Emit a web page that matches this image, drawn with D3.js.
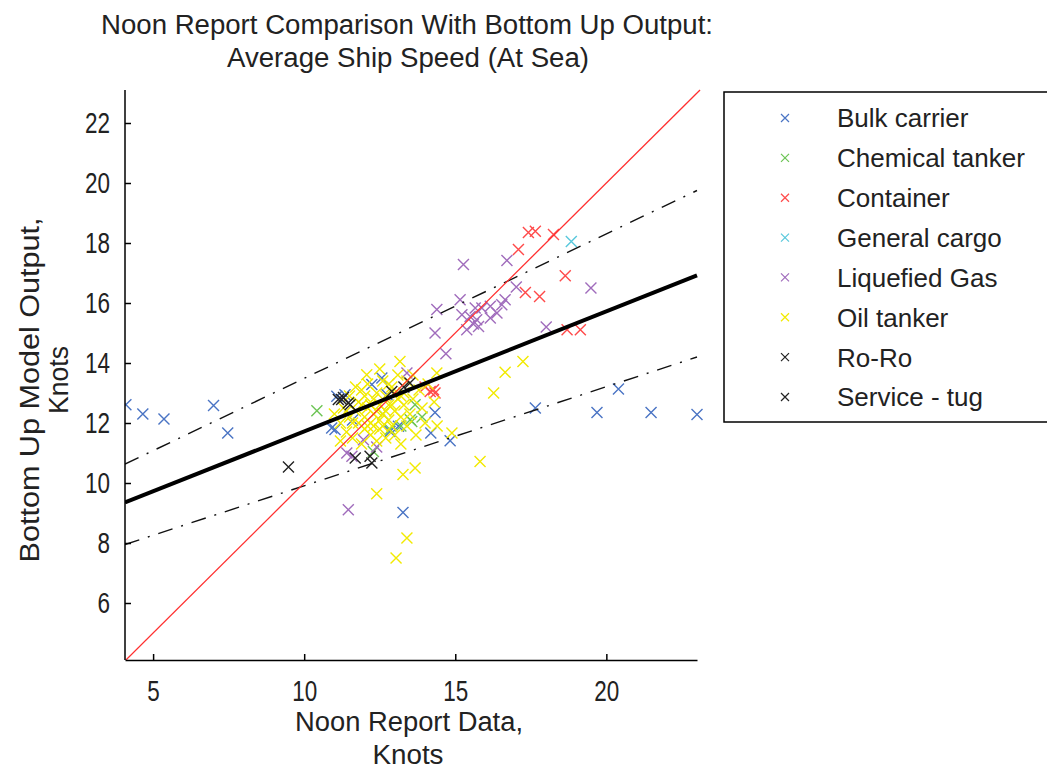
<!DOCTYPE html>
<html>
<head>
<meta charset="utf-8">
<script src="https://cdn.jsdelivr.net/npm/d3@7"></script>
<style>
  body { margin: 0; background: #fff; }
  svg { display: block; font-family: Arial, "Liberation Sans", sans-serif; }
</style>
</head>
<body>
<svg id="chart"></svg>
<script>
// Series values: [noon report knots, bottom-up knots]
const bulkCarrier = [
  [4.1, 12.61], [4.66, 12.3], [5.36, 12.13], [7.0, 12.58], [7.47, 11.67],
  [17.65, 12.5], [19.69, 12.35], [21.48, 12.35], [23.0, 12.28], [20.4, 13.13],
  [14.33, 12.35], [14.19, 11.67], [14.83, 11.41], [13.27, 9.02],
  [12.24, 13.28], [12.74, 12.94], [11.35, 12.94], [11.02, 11.78], [13.12, 11.89],
  [12.57, 13.5], [11.08, 12.89], [10.91, 11.83], [12.84, 11.72], [11.6, 12.1]
];
const chemicalTanker = [
  [10.42, 12.41], [13.56, 12.05], [12.84, 11.78], [13.67, 12.61], [13.51, 12.11],
  [12.29, 11.05], [12.6, 12.3], [13.2, 11.9], [13.9, 12.2]
];
const container = [
  [17.42, 18.35], [17.65, 18.39], [18.25, 18.28], [17.09, 17.78], [18.64, 16.91],
  [17.32, 16.35], [17.79, 16.22], [18.7, 15.11], [19.14, 15.11],
  [14.17, 13.05], [14.33, 13.0], [14.28, 13.11], [14.0, 13.2]
];
const generalCargo = [
  [18.84, 18.05]
];
const liquefiedGas = [
  [15.27, 17.28], [16.71, 17.42], [17.02, 16.53], [19.49, 16.5], [15.16, 16.11],
  [14.39, 15.78], [14.33, 15.0], [14.69, 14.31], [18.01, 15.2], [15.49, 15.55],
  [15.71, 15.44], [15.88, 15.83], [16.16, 15.89], [16.65, 16.11], [16.54, 15.94],
  [16.38, 15.67], [15.38, 15.11], [15.77, 15.22], [15.22, 15.61], [16.16, 15.5],
  [15.66, 15.83], [15.6, 15.3], [13.4, 13.67], [11.58, 10.89], [11.96, 11.44],
  [11.46, 9.11], [11.41, 11.0], [12.4, 11.2]
];
const oilTanker = [
  [13.17, 14.05], [17.24, 14.05], [16.65, 13.69], [16.27, 13.0], [14.89, 11.67],
  [15.82, 10.72], [13.67, 10.5], [13.27, 10.28], [12.4, 9.64], [13.4, 8.17],
  [13.04, 7.5], [12.07, 13.61], [14.39, 13.67],
  [11.0, 12.3], [11.2, 12.0], [11.3, 12.5], [11.4, 11.7], [11.5, 12.2], [11.5, 12.9],
  [11.6, 11.5], [11.7, 12.4], [11.8, 12.0], [11.8, 12.7], [11.9, 11.3], [11.9, 13.1],
  [12.0, 12.2], [12.0, 11.8], [12.1, 12.5], [12.1, 13.3], [12.2, 11.6], [12.2, 12.0],
  [12.3, 12.8], [12.3, 12.3], [12.4, 11.4], [12.4, 13.0], [12.5, 12.1], [12.5, 12.6],
  [12.5, 11.8], [12.6, 13.4], [12.6, 12.3], [12.7, 11.5], [12.7, 12.9], [12.8, 12.1],
  [12.8, 12.6], [12.9, 11.9], [12.9, 13.2], [13.0, 12.4], [13.0, 11.6], [13.1, 12.8],
  [13.1, 13.6], [13.2, 12.2], [13.2, 11.3], [13.3, 12.6], [13.3, 13.0], [13.4, 11.9],
  [13.4, 13.4], [13.5, 12.3], [13.6, 12.8], [13.7, 11.6], [13.8, 13.1], [13.9, 12.5],
  [14.0, 12.0], [14.1, 13.3], [14.3, 12.7], [14.4, 11.9], [12.0, 12.9], [11.6, 12.0],
  [12.3, 11.9], [12.6, 11.9], [12.2, 12.6], [12.9, 12.6], [12.4, 12.4], [12.7, 12.4],
  [13.0, 13.0], [12.1, 11.9], [11.9, 12.6], [13.2, 12.9], [12.8, 13.3], [11.4, 12.4],
  [11.7, 13.2], [12.5, 13.8], [13.6, 13.6], [11.2, 11.4]
];
const roRo = [
  [11.13, 12.78], [11.24, 12.78], [11.46, 12.67], [11.52, 12.61], [11.3, 12.85],
  [13.5, 13.33], [13.3, 13.2], [12.9, 13.05], [12.18, 10.89]
];
const serviceTug = [
  [9.48, 10.53], [11.69, 10.83], [12.24, 10.67]
];

const categories = ['Bulk carrier', 'Chemical tanker', 'Container', 'General cargo',
  'Liquefied Gas', 'Oil tanker', 'Ro-Ro', 'Service - tug'];
const categoryColors = ['#4a74c4', '#6cc454', '#ff4a4a', '#58c8dc',
  '#a06cbc', '#f2ea00', '#222222', '#222222'];
const seriesValues = [bulkCarrier, chemicalTanker, container, generalCargo,
  liquefiedGas, oilTanker, roRo, serviceTug];

// reference lines (end points)
const parityLine = [[4.07, 4.07], [23.1, 23.1]];
const fitLine = [[4.07, 9.35], [23.0, 16.92]];
const upperBand = [[4.07, 10.63], [23.0, 19.75]];
const lowerBand = [[4.07, 7.95], [23.0, 14.2]];

const xTicks = [5, 10, 15, 20];
const yTicks = [6, 8, 10, 12, 14, 16, 18, 20, 22];

const titleLines = ['Noon Report Comparison With Bottom Up Output:', 'Average Ship Speed (At Sea)'];
const xLabelLines = ['Noon Report Data,', 'Knots'];
const yLabelLines = ['Bottom Up Model Output,', 'Knots'];

/* layout */
const W = 1047, H = 771;
const plot = { x1: 125, x2: 697, y1: 90, y2: 660 };

const svg = d3.select('#chart').attr('width', W).attr('height', H);

const x = d3.scaleLinear().domain([4.07, 23.0]).range([plot.x1, plot.x2]);
const y = d3.scaleLinear().domain([4.1, 23.1]).range([plot.y2, plot.y1]);

svg.append('defs').append('clipPath').attr('id', 'plotclip')
  .append('rect')
  .attr('x', plot.x1).attr('y', plot.y1 - 2)
  .attr('width', plot.x2 - plot.x1 + 6).attr('height', plot.y2 - plot.y1 + 2);

// x-shaped marker
const cross = (s) => `M${-s},${-s}L${s},${s}M${-s},${s}L${s},${-s}`;

const pts = svg.append('g').attr('clip-path', 'url(#plotclip)');
seriesValues.forEach((vals, i) => {
  pts.append('g')
    .selectAll('path')
    .data(vals)
    .join('path')
    .attr('d', cross(5.5))
    .attr('transform', d => `translate(${x(d[0])},${y(d[1])})`)
    .attr('fill', 'none')
    .attr('stroke', categoryColors[i])
    .attr('stroke-width', 1.4);
});

const lineFn = d3.line().x(d => x(d[0])).y(d => y(d[1]));
const lines = svg.append('g').attr('clip-path', 'url(#plotclip)').attr('fill', 'none');

lines.append('path').attr('d', lineFn(upperBand))
  .attr('stroke', '#111').attr('stroke-width', 1.4).attr('stroke-dasharray', '15,9,2,9');
lines.append('path').attr('d', lineFn(lowerBand))
  .attr('stroke', '#111').attr('stroke-width', 1.4).attr('stroke-dasharray', '15,9,2,9');
lines.append('path').attr('d', lineFn(parityLine))
  .attr('stroke', '#ff3030').attr('stroke-width', 1.3);
lines.append('path').attr('d', lineFn(fitLine))
  .attr('stroke', '#000').attr('stroke-width', 4);

/* axes: inward ticks, left and bottom only */
const tickFont = (sel) => sel.selectAll('text')
  .attr('font-size', 29)
  .attr('fill', '#222')
  .attr('textLength', d => String(d).length * 12.5)
  .attr('lengthAdjust', 'spacingAndGlyphs');

const gx = svg.append('g')
  .attr('transform', `translate(0,${plot.y2})`)
  .call(d3.axisBottom(x).tickValues(xTicks).tickSizeInner(-6).tickSizeOuter(0).tickPadding(20));
gx.call(tickFont);

const gy = svg.append('g')
  .attr('transform', `translate(${plot.x1},0)`)
  .call(d3.axisLeft(y).tickValues(yTicks).tickSizeInner(-6).tickSizeOuter(0).tickPadding(15));
gy.call(tickFont);

[gx, gy].forEach(g => {
  g.select('.domain').attr('stroke', '#000').attr('stroke-width', 1.5);
  g.selectAll('.tick line').attr('stroke', '#000').attr('stroke-width', 1.5);
});
gy.select('.domain').attr('d', `M0,${plot.y1}V${plot.y2}`);

/* titles */
const title = svg.append('g').attr('font-size', 27).attr('fill', '#222').attr('text-anchor', 'middle');
title.append('text').attr('x', 407).attr('y', 34).text(titleLines[0])
  .attr('textLength', 612).attr('lengthAdjust', 'spacingAndGlyphs');
title.append('text').attr('x', 408).attr('y', 67).text(titleLines[1])
  .attr('textLength', 362).attr('lengthAdjust', 'spacingAndGlyphs');

const xl = svg.append('g').attr('font-size', 27).attr('fill', '#222').attr('text-anchor', 'middle');
xl.append('text').attr('x', 409).attr('y', 731).text(xLabelLines[0])
  .attr('textLength', 228).attr('lengthAdjust', 'spacingAndGlyphs');
xl.append('text').attr('x', 408).attr('y', 764).text(xLabelLines[1])
  .attr('textLength', 71).attr('lengthAdjust', 'spacingAndGlyphs');

const yl = svg.append('g').attr('font-size', 27).attr('fill', '#222').attr('text-anchor', 'middle')
  .attr('transform', 'translate(0,390) rotate(-90)');
yl.append('text').attr('x', 0).attr('y', 39).text(yLabelLines[0])
  .attr('textLength', 345).attr('lengthAdjust', 'spacingAndGlyphs');
yl.append('text').attr('x', 10).attr('y', 68).text(yLabelLines[1])
  .attr('textLength', 68).attr('lengthAdjust', 'spacingAndGlyphs');

/* legend */
const legend = svg.append('g');
legend.append('rect')
  .attr('x', 724).attr('y', 92).attr('width', 340).attr('height', 330)
  .attr('fill', '#fff').attr('stroke', '#000').attr('stroke-width', 1.5);

const legY = d3.scalePoint().domain(categories).range([118, 397]);
const rows = legend.selectAll('g.row').data(categories).join('g')
  .attr('class', 'row')
  .attr('transform', d => `translate(0,${legY(d)})`);
rows.append('path')
  .attr('d', cross(4))
  .attr('transform', 'translate(785,0)')
  .attr('fill', 'none')
  .attr('stroke', (d, i) => categoryColors[i])
  .attr('stroke-width', 1.2);
rows.append('text')
  .attr('x', 837).attr('y', 0).attr('dy', '0.36em')
  .attr('font-size', 26).attr('fill', '#222')
  .text(d => d);
</script>
</body>
</html>
